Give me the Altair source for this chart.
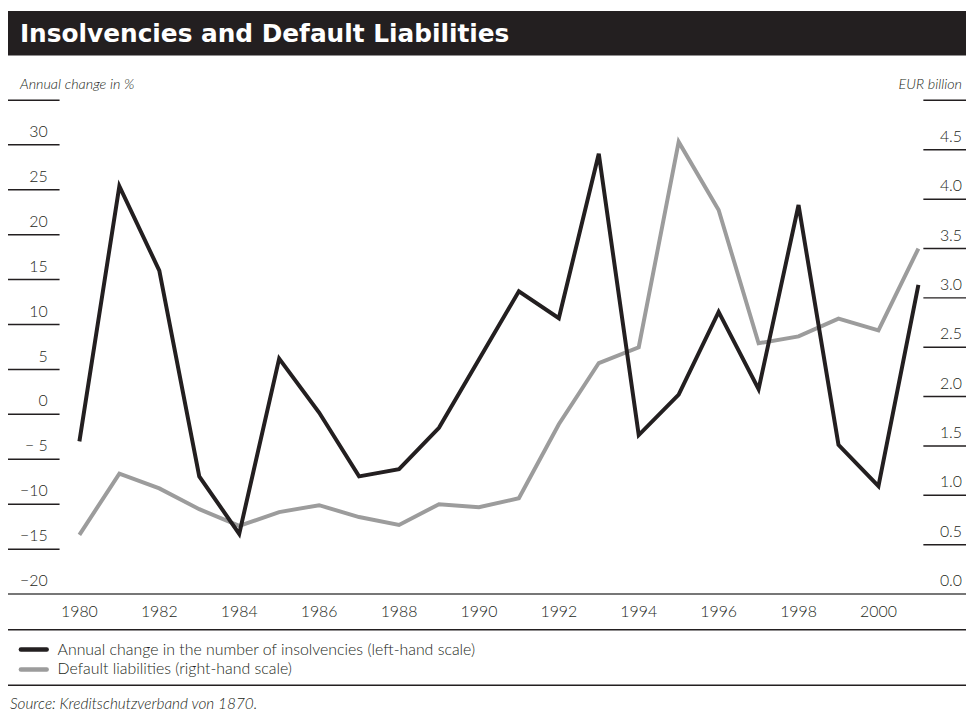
import altair as alt
import pandas as pd

# ---- data ----
years = list(range(1980, 2002))
insolvencies = [-3.0, 25.4, 16.0, -6.9, -13.3, 6.2, 0.2, -6.9, -6.1, -1.5, 6.1,
                13.7, 10.7, 29.0, -2.3, 2.2, 11.4, 2.8, 23.3, -3.4, -8.0, 14.4]
liabilities = [0.60, 1.22, 1.07, 0.86, 0.69, 0.83, 0.90, 0.78, 0.70, 0.91, 0.88,
               0.97, 1.72, 2.34, 2.50, 4.58, 3.89, 2.54, 2.61, 2.79, 2.67, 3.50]

left_ticks = [-20, -15, -10, -5, 0, 5, 10, 15, 20, 25, 30]
left_labels = ["\u221220", "\u221215", "\u221210", "\u2212 5", "0", "5", "10", "15", "20", "25", "30"]
right_ticks = [0.0, 0.5, 1.0, 1.5, 2.0, 2.5, 3.0, 3.5, 4.0, 4.5]
right_labels = ["0.0", "0.5", "1.0", "1.5", "2.0", "2.5", "3.0", "3.5", "4.0", "4.5"]
x_tick_years = list(range(1980, 2001, 2))

title_text = "Insolvencies and Default Liabilities"
left_title = "Annual change in %"
right_title = "EUR billion"
legend_labels = ["Annual change in the number of insolvencies (left-hand scale)",
                 "Default liabilities (right-hand scale)"]
source_text = "Source: Kreditschutzverband von 1870."

# ---- styles ----
BLACK = "#231f20"
GREY = "#9c9c9c"
FONT = "Lato"
W, H = 846, 453
PAD = {"left": 72, "top": 135, "right": 48, "bottom": 121}
LEFT_EDGE = -PAD["left"]
RIGHT_EDGE = W + PAD["right"]

xscale = alt.Scale(domain=[1980, 2001], nice=False, zero=False)
yl = alt.Scale(domain=[-20, 30], nice=False, zero=False)
yr = alt.Scale(domain=[0, 4.5], range=[H, 5], nice=False, zero=False)

df = pd.DataFrame({"year": years, "ins": insolvencies, "liab": liabilities})
dl = pd.DataFrame({"v": left_ticks, "lab": left_labels})
dr = pd.DataFrame({"v": right_ticks, "lab": right_labels})
dx = pd.DataFrame({"year": x_tick_years, "lab": [str(y) for y in x_tick_years]})
one = pd.DataFrame({"t": [0]})

line_black = alt.Chart(df).mark_line(color=BLACK, strokeWidth=4, strokeJoin="miter",
                                     strokeCap="butt", clip=False).encode(
    x=alt.X("year:Q", scale=xscale, axis=None),
    y=alt.Y("ins:Q", scale=yl, axis=None))

line_grey = alt.Chart(df).mark_line(color=GREY, strokeWidth=4, strokeJoin="miter",
                                    strokeCap="butt", clip=False).encode(
    x=alt.X("year:Q", scale=xscale, axis=None),
    y=alt.Y("liab:Q", scale=yr, axis=None))

left_rules = alt.Chart(dl[dl.v > -20]).mark_rule(color=BLACK, strokeWidth=1.5).encode(
    x=alt.value(LEFT_EDGE), x2=alt.value(-20),
    y=alt.Y("v:Q", scale=yl, axis=None))
left_text = alt.Chart(dl).mark_text(align="right", baseline="middle", dy=-13,
                                    fontSize=16, font=FONT, fontWeight=300,
                                    color=BLACK).encode(
    x=alt.value(-32), y=alt.Y("v:Q", scale=yl, axis=None), text="lab:N")

right_rules = alt.Chart(dr[dr.v > 0]).mark_rule(color=BLACK, strokeWidth=1.5).encode(
    x=alt.value(851), x2=alt.value(RIGHT_EDGE),
    y=alt.Y("v:Q", scale=yr, axis=None))
right_text = alt.Chart(dr).mark_text(align="right", baseline="middle", dy=-13,
                                     fontSize=16, font=FONT, fontWeight=300,
                                     color=BLACK).encode(
    x=alt.value(890), y=alt.Y("v:Q", scale=yr, axis=None), text="lab:N")

baseline = alt.Chart(one).mark_rule(color="#4a4a4a", strokeWidth=1.5).encode(
    x=alt.value(LEFT_EDGE), x2=alt.value(RIGHT_EDGE), y=alt.value(H))

x_text = alt.Chart(dx).mark_text(align="center", baseline="middle", fontSize=16,
                                 font=FONT, fontWeight=300, color=BLACK).encode(
    x=alt.X("year:Q", scale=xscale, axis=None), y=alt.value(H + 18), text="lab:N")

title_bar = alt.Chart(one).mark_rect(color=BLACK).encode(
    x=alt.value(LEFT_EDGE), x2=alt.value(RIGHT_EDGE),
    y=alt.value(-PAD["top"]), y2=alt.value(-PAD["top"] + 45))
title = alt.Chart(one).mark_text(align="left", baseline="middle", fontSize=25,
                                 font="DejaVu Sans", fontWeight="bold",
                                 color="white").encode(
    x=alt.value(-60), y=alt.value(-PAD["top"] + 23), text=alt.value(title_text))

ltitle = alt.Chart(one).mark_text(align="left", baseline="middle", fontSize=14.5,
                                  font=FONT, fontStyle="italic", fontWeight=300,
                                  color=BLACK).encode(
    x=alt.value(-60), y=alt.value(-60), text=alt.value(left_title))
rtitle = alt.Chart(one).mark_text(align="right", baseline="middle", fontSize=14.5,
                                  font=FONT, fontStyle="italic", fontWeight=300,
                                  color=BLACK).encode(
    x=alt.value(890), y=alt.value(-60), text=alt.value(right_title))
lunder = alt.Chart(one).mark_rule(color=BLACK, strokeWidth=1.5).encode(
    x=alt.value(LEFT_EDGE), x2=alt.value(-20), y=alt.value(-45))
runder = alt.Chart(one).mark_rule(color=BLACK, strokeWidth=1.5).encode(
    x=alt.value(851), x2=alt.value(RIGHT_EDGE), y=alt.value(-45))

rule1 = alt.Chart(one).mark_rule(color=BLACK, strokeWidth=1.5).encode(
    x=alt.value(LEFT_EDGE), x2=alt.value(RIGHT_EDGE), y=alt.value(489))
rule2 = alt.Chart(one).mark_rule(color=BLACK, strokeWidth=1.5).encode(
    x=alt.value(LEFT_EDGE), x2=alt.value(RIGHT_EDGE), y=alt.value(545))

sw1 = alt.Chart(one).mark_rule(color=BLACK, strokeWidth=4.5, strokeCap="round").encode(
    x=alt.value(-59), x2=alt.value(-33), y=alt.value(509))
sw2 = alt.Chart(one).mark_rule(color=GREY, strokeWidth=4.5, strokeCap="round").encode(
    x=alt.value(-59), x2=alt.value(-33), y=alt.value(529))
leg1 = alt.Chart(one).mark_text(align="left", baseline="middle", fontSize=16,
                                font=FONT, fontWeight=300, color=BLACK).encode(
    x=alt.value(-22), y=alt.value(509), text=alt.value(legend_labels[0]))
leg2 = alt.Chart(one).mark_text(align="left", baseline="middle", fontSize=16,
                                font=FONT, fontWeight=300, color=BLACK).encode(
    x=alt.value(-22), y=alt.value(529), text=alt.value(legend_labels[1]))
src = alt.Chart(one).mark_text(align="left", baseline="middle", fontSize=15.5,
                               font=FONT, fontStyle="italic", fontWeight=300,
                               color=BLACK).encode(
    x=alt.value(-70), y=alt.value(564), text=alt.value(source_text))

chart = alt.layer(
    title_bar, title, ltitle, rtitle, lunder, runder,
    left_rules, left_text, right_rules, right_text, baseline, x_text,
    line_grey, line_black,
    rule1, rule2, sw1, sw2, leg1, leg2, src,
).resolve_scale(y="independent").properties(
    width=W, height=H, padding=PAD,
    autosize=alt.AutoSizeParams(type="none"),
).configure_view(stroke=None)

chart.save("out.html", embed_options={"renderer": "svg", "actions": False})
